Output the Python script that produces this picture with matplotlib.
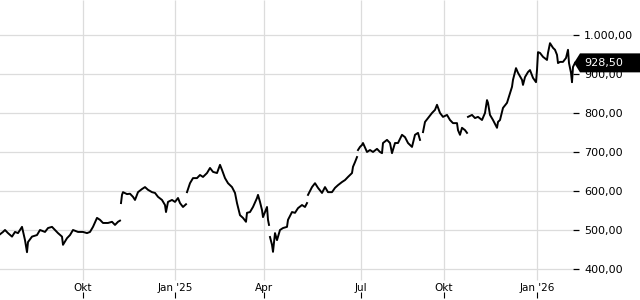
import numpy as np
import matplotlib
matplotlib.use("Agg")
import matplotlib.pyplot as plt
from matplotlib.patches import Polygon
from matplotlib.transforms import blended_transform_factory

# Kursverlauf (x = Position auf der Zeitachse, nan = Lücke)
nan = np.nan
pos = [0, 3, 5, 8, 12, 15, 18, 22, 23, 25, 27, 28, 32, 37, 40, 45, 48, 52, 55, 58,
       62, 63, 67, 70, 73, 78, 83, 87, 90, 93, 97, 100, 103, 108, 112, 115, 118, 120,
       120.5,
       121, 122, 123, 127, 130, 133, 135, 138, 142, 145, 148, 152, 155, 158, 162, 165,
       166, 168, 172, 175, 178, 180, 183, 186,
       186.5,
       187, 190, 193, 197, 200, 203, 207, 210, 213, 217, 220, 222, 225, 228, 232, 235,
       237, 240, 243, 246, 247, 250, 253, 257, 258, 260, 262, 263, 267, 268, 269,
       269.5,
       270, 272, 273, 275, 277, 280, 283, 287, 288, 292, 295, 298, 302, 305, 307,
       307.5,
       308, 312, 315, 318, 322, 325, 328, 332, 335, 338, 342, 345, 348, 352, 353, 355, 357,
       357.5,
       358, 360, 362, 363, 367, 370, 373, 377, 380, 382, 383, 387, 390, 392, 395, 398,
       402, 405, 408, 412, 415, 418, 420,
       421.5,
       423, 425, 428, 432, 435, 437, 440, 443, 447, 450, 453, 457, 458, 460, 462, 465, 467,
       467.5,
       468, 472, 475, 478, 482, 485, 487, 488, 490, 493, 497, 498, 500, 503, 507, 510,
       512, 513, 516, 518, 522, 523, 525, 528, 530, 533, 536, 537, 538, 540, 543, 547,
       548, 550, 553, 555, 557, 558, 560, 563, 566, 568, 569, 571, 572, 573, 575]
kurs = [489, 495, 500, 492, 483, 495, 492, 508, 497, 474, 443, 469, 483, 487, 500, 495, 505, 508, 500, 492,
        483, 462, 479, 487, 500, 495, 495, 492, 495, 508, 531, 526, 518, 518, 521, 513, 521, 524,
        nan,
        569, 590, 597, 592, 593, 585, 577, 597, 605, 610, 603, 597, 595, 585, 577, 564,
        546, 572, 577, 572, 582, 569, 559, 566,
        nan,
        597, 620, 633, 633, 641, 636, 646, 659, 649, 646, 667, 654, 633, 620, 610, 595,
        569, 538, 531, 521, 544, 546, 559, 582, 590, 572, 551, 533, 559, 526, 513,
        nan,
        482, 462, 444, 492, 474, 500, 505, 508, 526, 546, 544, 556, 564, 559, 569,
        nan,
        590, 610, 620, 608, 595, 610, 597, 597, 608, 615, 623, 628, 636, 646, 662, 674, 687,
        nan,
        705, 713, 718, 723, 700, 705, 700, 708, 700, 697, 723, 731, 723, 697, 723, 723,
        744, 738, 723, 713, 744, 749, 731,
        nan,
        751, 777, 787, 800, 808, 821, 800, 790, 795, 782, 774, 774, 756, 744, 762, 756, 749,
        nan,
        790, 795, 787, 790, 782, 800, 833, 826, 795, 782, 762, 777, 782, 813, 826, 851,
        867, 885, 915, 903, 885, 872, 892, 905, 910, 890, 879, 910, 956, 954, 944, 936,
        954, 979, 967, 962, 949, 928, 931, 931, 941, 962, 928, 903, 879, 918, 928.5]

letzter_kurs = 928.50
monat_pos = [83, 175, 264, 361, 444, 537]
monat_labels = ["Okt", "Jan '25", "Apr", "Jul", "Okt", "Jan '26"]
y_ticks = [400, 500, 600, 700, 800, 900, 1000]


def de_format(v):
    s = f"{v:,.2f}"
    return s.replace(",", "X").replace(".", ",").replace("X", ".")


fig = plt.figure(figsize=(6.4, 3.0), dpi=100)
ax = fig.add_axes([0, 2 / 300, 573 / 640, 298 / 300])
ax.set_xlim(0, 573)
ax.set_ylim(325.6, 1089.7)

# Gitter
for y in y_ticks:
    ax.axhline(y, color="#dcdcdc", lw=0.9, zorder=0)
ax.vlines(monat_pos, 371.8, 1089.7, color="#dcdcdc", lw=0.9, zorder=0)

ax.plot(pos, kurs, color="black", lw=1.4, zorder=3, clip_on=False)

for s in ax.spines.values():
    s.set_visible(False)

ax.set_xticks(monat_pos)
ax.set_xticklabels(monat_labels, fontsize=7.5)
ax.tick_params(axis="x", direction="in", length=4, width=0.8, pad=-11, colors="black")

ax.yaxis.tick_right()
ax.set_yticks(y_ticks)
ax.set_yticklabels([de_format(v) for v in y_ticks], fontsize=8)
ax.tick_params(axis="y", direction="out", length=4, width=0.9, pad=4, colors="black")

# Kursmarke rechts
tr = blended_transform_factory(fig.transFigure, ax.transData)
h = 9.5 * (1089.7 - 325.6) / 298
box = Polygon([(574 / 640, letzter_kurs), (580 / 640, letzter_kurs + h),
               (1.0, letzter_kurs + h), (1.0, letzter_kurs - h),
               (580 / 640, letzter_kurs - h)],
              closed=True, transform=tr, facecolor="black", edgecolor="none",
              clip_on=False, zorder=5)
fig.add_artist(box)
fig.text(584 / 640, letzter_kurs, de_format(letzter_kurs), transform=tr,
         color="white", fontsize=8, va="center", ha="left", zorder=6)

fig.savefig("out.png", dpi=100)
